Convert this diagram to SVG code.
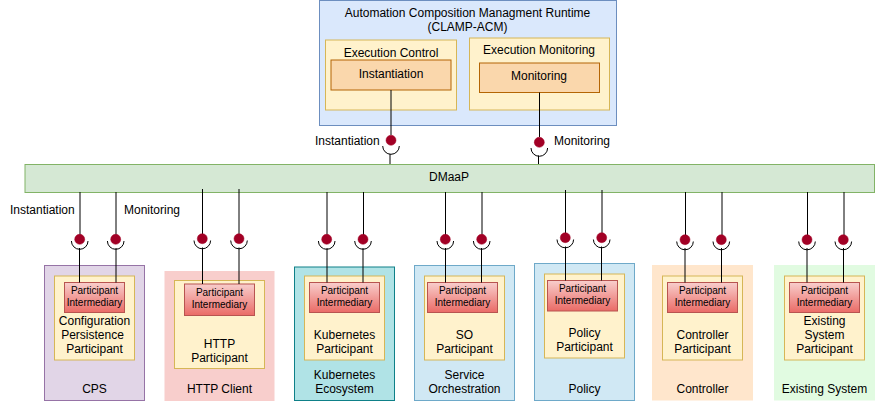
<svg xmlns="http://www.w3.org/2000/svg" width="875" height="401" viewBox="0 0 875 401">
<style>
text{font-family:"Liberation Sans",Arial,sans-serif;font-size:12px;fill:#000;text-anchor:middle}
.pi{font-size:10px}
.st{text-anchor:start}
.cn{fill:#fff2cc;stroke:#d6b656}
.pir{fill:url(#red);stroke:#b85450}
.op{fill:#fad7ac;stroke:#b46504}
.l{stroke:#000;fill:none}
.a{stroke:#000;fill:none}
.d{fill:#a20025;stroke:#a20025;stroke-width:.5}
</style>
<defs><linearGradient id="red" x1="0" y1="0" x2="0" y2="1"><stop offset="0" stop-color="#f8cecc"/><stop offset="1" stop-color="#ea6b66"/></linearGradient></defs>
<rect width="875" height="401" fill="#fff"/>
<g id="runtime">
<rect x="319.500" y="0.500" width="297" height="125" fill="#dae8fc" stroke="#6c8ebf"/>
<text x="467.500" y="17">Automation Composition Managment Runtime</text>
<text x="467.500" y="31">(CLAMP-ACM)</text>
</g>
<g id="execution-control">
<rect class="cn" x="325.500" y="40" width="131" height="70"/>
<text x="391" y="57">Execution Control</text>
</g>
<g id="instantiation">
<rect class="op" x="331" y="60" width="120" height="30"/>
<text x="391" y="78">Instantiation</text>
</g>
<g id="execution-monitoring">
<rect class="cn" x="469.500" y="38" width="140" height="72"/>
<text x="539" y="54">Execution Monitoring</text>
</g>
<g id="monitoring">
<rect class="op" x="479.500" y="63" width="120" height="29.500"/>
<text x="539" y="80">Monitoring</text>
</g>
<g id="dmaap">
<rect x="25" y="164.500" width="849.500" height="28" fill="#d5e8d4" stroke="#82b366"/>
<text x="449" y="181">DMaaP</text>
</g>
<g id="cps">
<rect x="44.500" y="265.500" width="100" height="135" fill="#e1d5e7" stroke="#9673a6"/>
<rect class="cn" x="54.500" y="276" width="80" height="84"/>
<rect class="pir" x="64.500" y="282.500" width="60" height="30"/>
<text class="pi" x="94.500" y="294">Participant</text><text class="pi" x="94.500" y="306">Intermediary</text>
<text x="94.500" y="325">Configuration</text><text x="92.500" y="339">Persistence</text><text x="94.500" y="353">Participant</text>
<text x="94.500" y="393">CPS</text>
</g>
<g id="http-client">
<rect x="165" y="271.500" width="109" height="129" fill="#f8cecc" stroke="#f8cecc"/>
<rect class="cn" x="174.500" y="280.500" width="90" height="88"/>
<rect class="pir" x="184.500" y="284" width="70" height="31.500"/>
<text class="pi" x="219.500" y="296">Participant</text><text class="pi" x="219.500" y="308">Intermediary</text>
<text x="219.500" y="348">HTTP</text><text x="219.500" y="362">Participant</text>
<text x="219.500" y="393">HTTP Client</text>
</g>
<g id="kubernetes">
<rect x="294.500" y="267" width="100" height="133.500" fill="#b0e3e6" stroke="#0e8088"/>
<rect class="cn" x="304.500" y="276" width="80" height="84"/>
<rect class="pir" x="309.500" y="282.500" width="70" height="30"/>
<text class="pi" x="344.500" y="294">Participant</text><text class="pi" x="344.500" y="306">Intermediary</text>
<text x="344.500" y="339">Kubernetes</text><text x="344.500" y="353">Participant</text>
<text x="344.500" y="379">Kubernetes</text><text x="344.500" y="393">Ecosystem</text>
</g>
<g id="service-orchestration">
<rect x="414.500" y="265.500" width="100" height="135" fill="#d0e8f4" stroke="#6ea9c9"/>
<rect class="cn" x="424.500" y="276" width="80" height="84"/>
<rect class="pir" x="427.500" y="282.500" width="70" height="30"/>
<text class="pi" x="462.500" y="294">Participant</text><text class="pi" x="462.500" y="306">Intermediary</text>
<text x="464.500" y="339">SO</text><text x="464.500" y="353">Participant</text>
<text x="464.500" y="379">Service</text><text x="464.500" y="393">Orchestration</text>
</g>
<g id="policy">
<rect x="534.500" y="263.500" width="100" height="137" fill="#d0e8f4" stroke="#6ea9c9"/>
<rect class="cn" x="544.500" y="274" width="80" height="84"/>
<rect class="pir" x="547.500" y="280.500" width="70" height="30.500"/>
<text class="pi" x="582.500" y="292">Participant</text><text class="pi" x="582.500" y="304">Intermediary</text>
<text x="584.500" y="337">Policy</text><text x="584.500" y="351">Participant</text>
<text x="584.500" y="393">Policy</text>
</g>
<g id="controller">
<rect x="652.500" y="265.500" width="100" height="134.500" fill="#ffe6cc" stroke="#ffe6cc"/>
<rect class="cn" x="662.500" y="276" width="80" height="84"/>
<rect class="pir" x="667.500" y="282.500" width="70" height="30"/>
<text class="pi" x="702.500" y="294">Participant</text><text class="pi" x="702.500" y="306">Intermediary</text>
<text x="702.500" y="339">Controller</text><text x="702.500" y="353">Participant</text>
<text x="702.500" y="393">Controller</text>
</g>
<g id="existing-system">
<rect x="774.500" y="265.500" width="100" height="134.500" fill="#e1fbe1" stroke="#e1fbe1"/>
<rect class="cn" x="784.500" y="276" width="80" height="84"/>
<rect class="pir" x="789.500" y="282.500" width="70" height="30"/>
<text class="pi" x="824.500" y="294">Participant</text><text class="pi" x="824.500" y="306">Intermediary</text>
<text x="824.500" y="325">Existing</text><text x="824.500" y="339">System</text><text x="824.500" y="353">Participant</text>
<text x="824.500" y="393">Existing System</text>
</g>
<g id="connectors">
<path class="l" d="M391 90V135M390 154V164M539.500 92.500V137M538.500 155.500V164"/>
<path class="l" d="M80 192V235M79.500 248V282.500M116 192V235M116 248V282.500M202.500 189V235M202.500 247.500V284M239 189V235M239 247.500V284M327 192V235M327 248V282.500M363.500 192V235M363 248V282.500M445.500 192V235M445.500 248V282.500M482 192V235M481.500 248V282.500M565.500 190V233M565.500 246.500V280.500M602 190V233M601.500 246.500V280.500M685.500 192V235M685 248V282.500M722 192V235M721.500 248V282.500M807.500 192V235M807 248V282.500M844 192V235M843.500 248V282.500"/>
<g id="sockets">
<path class="a" d="M382.700 146A8.300 8.300 0 0 0 399.300 146M531 148A8.300 8.300 0 0 0 547.600 148"/>
<path class="a" d="M71.400 241A8.300 8.300 0 0 0 88 241M107.400 241A8.300 8.300 0 0 0 124 241M194 240.500A8.300 8.300 0 0 0 210.600 240.500M230.700 240.500A8.300 8.300 0 0 0 247.300 240.500M318.400 241A8.300 8.300 0 0 0 335 241M354.700 241A8.300 8.300 0 0 0 371.300 241M437 241A8.300 8.300 0 0 0 453.600 241M473.400 241A8.300 8.300 0 0 0 490 241M557 239.500A8.300 8.300 0 0 0 573.600 239.500M593.400 239.500A8.300 8.300 0 0 0 610 239.500M676.700 241.500A8.300 8.300 0 0 0 693.300 241.500M713 241.500A8.300 8.300 0 0 0 729.600 241.500M798.700 241.500A8.300 8.300 0 0 0 815.300 241.500M835 241.500A8.300 8.300 0 0 0 851.600 241.500"/>
</g>
<g id="interfaces">
<circle class="d" cx="391" cy="140.300" r="5"/><circle class="d" cx="539.300" cy="142.300" r="5"/>
<circle class="d" cx="79.700" cy="239.300" r="5"/><circle class="d" cx="115.700" cy="239.300" r="5"/>
<circle class="d" cx="202.300" cy="238.700" r="5"/><circle class="d" cx="239" cy="238.700" r="5"/>
<circle class="d" cx="326.700" cy="239.300" r="5"/><circle class="d" cx="363" cy="239.300" r="5"/>
<circle class="d" cx="445.300" cy="239.300" r="5"/><circle class="d" cx="481.700" cy="239.300" r="5"/>
<circle class="d" cx="565.300" cy="237.700" r="5"/><circle class="d" cx="601.700" cy="237.700" r="5"/>
<circle class="d" cx="685" cy="239.700" r="5"/><circle class="d" cx="721.300" cy="239.700" r="5"/>
<circle class="d" cx="807" cy="239.700" r="5"/><circle class="d" cx="843.300" cy="239.700" r="5"/>
</g>
</g>
<text class="st" x="315" y="145">Instantiation</text>
<text class="st" x="554" y="145">Monitoring</text>
<text class="st" x="10" y="214">Instantiation</text>
<text class="st" x="124" y="214">Monitoring</text>
</svg>
